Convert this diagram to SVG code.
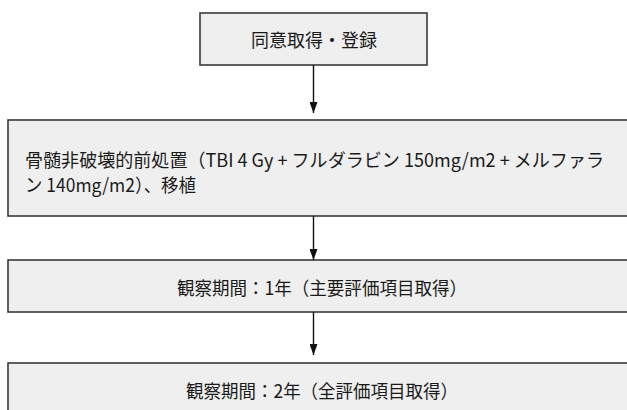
<svg xmlns="http://www.w3.org/2000/svg" width="627" height="410" viewBox="0 0 627 410">
<style>
.box{fill:#efefef;stroke:#3a3a3a;stroke-width:1.6}
.t{font-family:"Noto Sans CJK JP","Noto Sans",sans-serif;font-size:18.5px;fill:#1a1a1a;dominant-baseline:central}
.c{text-anchor:middle}
.con{stroke:#111;stroke-width:1.4;fill:none;marker-end:url(#ah)}
</style>
<defs>
<marker id="ah" markerWidth="11" markerHeight="8" refX="11" refY="4" orient="auto" markerUnits="userSpaceOnUse" viewBox="0 0 11 8">
<path d="M0,0 L11,4 L0,8 Z" fill="#111"/>
</marker>
</defs>
<g id="n1">
<rect class="box" x="200" y="13" width="227" height="52"/>
<text class="t c" x="314" y="39" textLength="126" lengthAdjust="spacingAndGlyphs">同意取得・登録</text>
</g>
<g id="n2">
<rect class="box" x="8" y="120" width="630" height="96"/>
<text class="t" x="25" y="159" textLength="579" lengthAdjust="spacingAndGlyphs">骨髄非破壊的前処置（TBI 4 Gy + フルダラビン 150mg/m2 + メルファラ</text>
<text class="t" x="25" y="184" textLength="171" lengthAdjust="spacingAndGlyphs">ン 140mg/m2）、移植</text>
</g>
<g id="n3">
<rect class="box" x="8" y="260" width="630" height="52"/>
<text class="t c" x="322" y="287" textLength="290" lengthAdjust="spacingAndGlyphs">観察期間：1年（主要評価項目取得）</text>
</g>
<g id="n4">
<rect class="box" x="8" y="363" width="630" height="60"/>
<text class="t c" x="322" y="390" textLength="272" lengthAdjust="spacingAndGlyphs">観察期間：2年（全評価項目取得）</text>
</g>
<g id="connectors">
<line class="con" x1="313.5" y1="65" x2="313.5" y2="113"/>
<line class="con" x1="313.5" y1="216" x2="313.5" y2="260"/>
<line class="con" x1="313.5" y1="312" x2="313.5" y2="355"/>
</g>
</svg>
